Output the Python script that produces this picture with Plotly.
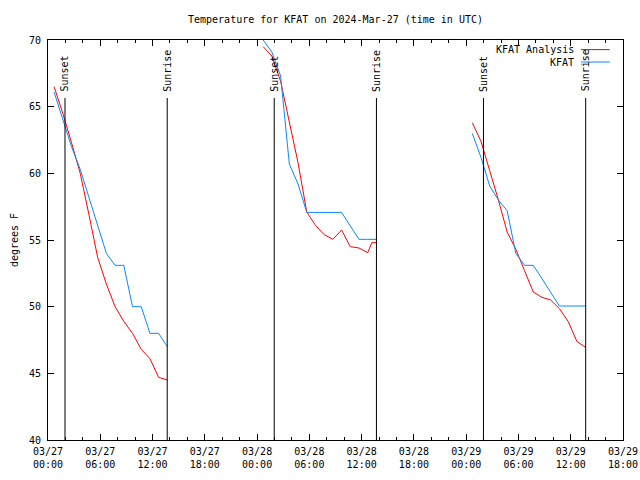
import plotly.graph_objects as go

# ---- data ----
seg1_times = ["2024-03-27 00:42", "2024-03-27 01:42", "2024-03-27 02:42", "2024-03-27 03:42",
              "2024-03-27 04:42", "2024-03-27 05:42", "2024-03-27 06:42", "2024-03-27 07:42",
              "2024-03-27 08:42", "2024-03-27 09:42", "2024-03-27 10:42", "2024-03-27 11:42",
              "2024-03-27 12:42", "2024-03-27 13:42"]
seg2_times = ["2024-03-28 00:42", "2024-03-28 01:42", "2024-03-28 02:42", "2024-03-28 03:42",
              "2024-03-28 04:42", "2024-03-28 05:42", "2024-03-28 06:42", "2024-03-28 07:42",
              "2024-03-28 08:42", "2024-03-28 09:42", "2024-03-28 10:42", "2024-03-28 11:42",
              "2024-03-28 12:42", "2024-03-28 13:42"]
seg2_times_analysis = ["2024-03-28 00:42", "2024-03-28 01:42", "2024-03-28 02:42", "2024-03-28 03:42",
                       "2024-03-28 04:42", "2024-03-28 05:42", "2024-03-28 06:42", "2024-03-28 07:42",
                       "2024-03-28 08:42", "2024-03-28 09:42", "2024-03-28 10:42", "2024-03-28 11:42",
                       "2024-03-28 12:42", "2024-03-28 13:10", "2024-03-28 13:42"]
seg3_times = ["2024-03-29 00:42", "2024-03-29 01:42", "2024-03-29 02:42", "2024-03-29 03:42",
              "2024-03-29 04:42", "2024-03-29 05:42", "2024-03-29 06:42", "2024-03-29 07:42",
              "2024-03-29 08:42", "2024-03-29 09:42", "2024-03-29 10:42", "2024-03-29 11:42",
              "2024-03-29 12:42", "2024-03-29 13:42"]

analysis_seg1 = [66.5, 64.5, 62.3, 60.0, 56.9, 53.7, 51.7, 50.0, 48.9, 48.0, 46.8, 46.1, 44.7, 44.5]
analysis_seg2 = [69.5, 68.8, 66.9, 63.85, 60.8, 57.1, 56.1, 55.4, 55.05, 55.75, 54.5, 54.4, 54.05, 54.8, 54.8]
analysis_seg3 = [63.8, 62.4, 60.2, 58.0, 55.6, 54.3, 52.7, 51.1, 50.7, 50.5, 49.85, 48.9, 47.4, 46.95]

obs_seg1 = [66.1, 64.1, 62.0, 60.3, 58.2, 56.0, 54.0, 53.1, 53.1, 50.0, 50.0, 48.0, 48.0, 47.0]
obs_seg2 = [70.0, 69.1, 67.3, 60.7, 59.2, 57.07, 57.07, 57.07, 57.07, 57.07, 56.05, 55.05, 55.05, 55.05]
obs_seg3 = [63.0, 61.2, 59.05, 58.0, 57.2, 54.0, 53.1, 53.1, 52.1, 51.1, 50.05, 50.05, 50.05, 50.05]

sunset_times = ["2024-03-27 01:57", "2024-03-28 01:58", "2024-03-29 01:59"]
sunrise_times = ["2024-03-27 13:41", "2024-03-28 13:42", "2024-03-29 13:43"]

x_range = ["2024-03-27 00:00", "2024-03-29 18:00"]
y_range = [40, 70]

title_text = "Temperature for KFAT on 2024-Mar-27 (time in UTC)"
FONT = "DejaVu Sans Mono"
RED = "#ff0000"
BLUE = "#0a88ff"

def join(*pairs):
    xs, ys = [], []
    for i, (t, v) in enumerate(pairs):
        if i:
            xs.append(None)
            ys.append(None)
        xs += list(t)
        ys += list(v)
    return xs, ys

ax, ay = join((seg1_times, analysis_seg1), (seg2_times_analysis, analysis_seg2), (seg3_times, analysis_seg3))
ox, oy = join((seg1_times, obs_seg1), (seg2_times, obs_seg2), (seg3_times, obs_seg3))

fig = go.Figure()
fig.add_trace(go.Scatter(x=ax, y=ay, mode="lines", name="KFAT Analysis",
                         line=dict(color=RED, width=1), connectgaps=False))
fig.add_trace(go.Scatter(x=ox, y=oy, mode="lines", name="KFAT",
                         line=dict(color=BLUE, width=1), connectgaps=False))

shapes = []
annotations = []
for t, label in [(s, "Sunset") for s in sunset_times] + [(s, "Sunrise") for s in sunrise_times]:
    shapes.append(dict(type="line", xref="x", yref="paper", x0=t, x1=t, y0=0, y1=0.855,
                       line=dict(color="black", width=1)))
    annotations.append(dict(x=t, y=0.866, xref="x", yref="paper", text=label, textangle=-90,
                            showarrow=False, xanchor="center", yanchor="bottom",
                            font=dict(family=FONT, size=10, color="black")))

# legend drawn gnuplot-style (text right-aligned, sample to the right)
legend_items = [("KFAT Analysis", RED, 0.976), ("KFAT", BLUE, 0.945)]
for text, color, yy in legend_items:
    annotations.append(dict(x=0.918, y=yy, xref="paper", yref="paper", text=text, showarrow=False,
                            xanchor="right", yanchor="middle",
                            font=dict(family=FONT, size=10, color="black")))
    shapes.append(dict(type="line", xref="paper", yref="paper", x0=0.927, x1=0.977, y0=yy, y1=yy,
                       line=dict(color=color, width=1)))

fig.update_layout(
    width=640, height=480,
    margin=dict(l=48, r=17, t=40, b=40, autoexpand=False),
    paper_bgcolor="white", plot_bgcolor="white",
    showlegend=False,
    font=dict(family=FONT, size=10, color="black"),
    title=dict(text=title_text, x=0.5, xref="paper", xanchor="center",
               y=1 - 19 / 480, yref="container", yanchor="middle", automargin=False,
               font=dict(family=FONT, size=10, color="black")),
    shapes=shapes,
    annotations=annotations,
    xaxis=dict(type="date", range=x_range, tick0="2024-03-27 00:00", dtick=6 * 3600 * 1000,
               tickformat="%m/%d<br>%H:%M", ticks="inside", ticklen=6, tickcolor="black",
               showline=True, linecolor="black", linewidth=1, mirror="ticks",
               showgrid=False, zeroline=False, automargin=False, ticklabelstandoff=2,
               minor=dict(dtick=2 * 3600 * 1000, ticks="inside", ticklen=3, tickcolor="black",
                          showgrid=False),
               tickfont=dict(family=FONT, size=10, color="black")),
    yaxis=dict(range=y_range, dtick=5, ticks="inside", ticklen=6, tickcolor="black",
               showline=True, linecolor="black", linewidth=1, mirror="ticks",
               showgrid=False, zeroline=False, automargin=False, ticklabelstandoff=4,
               title=dict(text="degrees F", font=dict(family=FONT, size=10, color="black"), standoff=8),
               tickfont=dict(family=FONT, size=10, color="black")),
)

fig.write_html("out.html", config={"displayModeBar": False},
               post_script="document.body.style.margin='0px';")
